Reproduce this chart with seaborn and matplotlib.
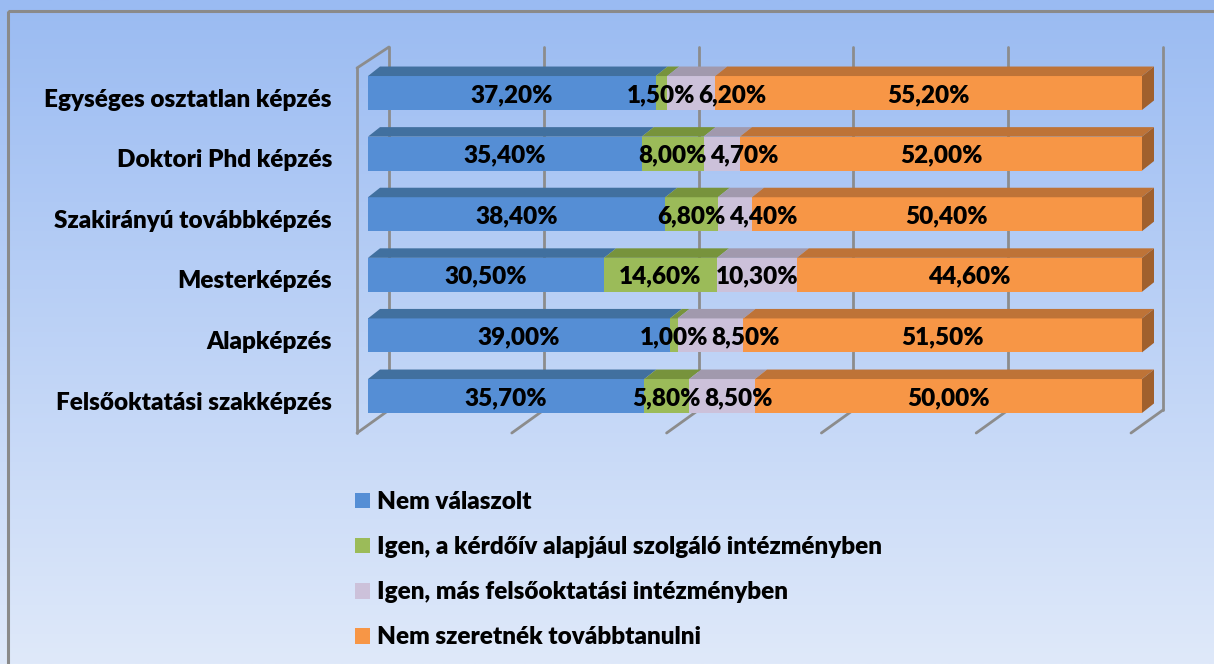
import numpy as np
import pandas as pd
import matplotlib
matplotlib.use("Agg")
import matplotlib.pyplot as plt
from matplotlib.patches import Polygon, Patch, Rectangle
from matplotlib.lines import Line2D
import seaborn as sns

# ---------------- data ----------------
categories = ["Egységes osztatlan képzés", "Doktori Phd képzés", "Szakirányú továbbképzés",
              "Mesterképzés", "Alapképzés", "Felsőoktatási szakképzés"]
series_names = ["Nem válaszolt",
                "Igen, a kérdőív alapjául szolgáló intézményben",
                "Igen, más felsőoktatási intézményben",
                "Nem szeretnék továbbtanulni"]
nem_valaszolt = [37.2, 35.4, 38.4, 30.5, 39.0, 35.7]
igen_alapjaul = [1.5, 8.0, 6.8, 14.6, 1.0, 5.8]
igen_mas = [6.2, 4.7, 4.4, 10.3, 8.5, 8.5]
nem_szeretnek = [55.2, 52.0, 50.4, 44.6, 51.5, 50.0]
grid_ticks = [0, 20, 40, 60, 80, 100]

front_colors = ["#558ed5", "#9bbb59", "#ccc1da", "#f79646"]
top_colors = ["#41709f", "#77933c", "#a199ad", "#be7337"]
side_color = "#a0602d"

sns.set_theme(style="white")
FAM = ["Lato", "DejaVu Sans"]
plt.rcParams["font.family"] = FAM
plt.rcParams["text.color"] = "black"
WEIGHT = "heavy"
FS = 17.5

W, H = 1214, 664
fig = plt.figure(figsize=(W / 100, H / 100), dpi=100)

# background gradient
bg = fig.add_axes([0, 0, 1, 1], zorder=-10)
top_c = np.array([154, 187, 242]) / 255
bot_c = np.array([223, 233, 250]) / 255
t = np.linspace(0, 1, 256)[:, None]
grad = top_c[None, :] * (1 - t) + bot_c[None, :] * t
bg.imshow(grad[:, None, :].repeat(2, axis=1), aspect="auto", extent=[0, W, H, 0])
bg.set_xlim(0, W); bg.set_ylim(H, 0); bg.axis("off")
bg.add_patch(Rectangle((8, 11), W + 10, H + 10, fill=False, edgecolor="#8a8a8a", lw=2.2))

# ---------------- main axes (pixel layout) ----------------
AX_L, AX_R, AX_T, AX_B = 340, 1180, 30, 445
X0_PX, X100_PX = 368, 1142          # bar front face: 0% and 100%
ROW0_PX, ROW_STEP = 93, 60.6         # front face centre of first row and row step
pxu = (X100_PX - X0_PX) / 100.0
ax = fig.add_axes([AX_L / W, 1 - AX_B / H, (AX_R - AX_L) / W, (AX_B - AX_T) / H])
ax.patch.set_alpha(0)

def dx(px):
    return px / pxu

def dy(px):
    return px / ROW_STEP

xlo = (AX_L - X0_PX) / pxu
xhi = (AX_R - X0_PX) / pxu
ytop = (AX_T - ROW0_PX) / ROW_STEP
ybot = (AX_B - ROW0_PX) / ROW_STEP

values = np.array([nem_valaszolt, igen_alapjaul, igen_mas, nem_szeretnek])
totals = values.sum(axis=0)
norm = values / totals * 100
cum = np.cumsum(norm, axis=0)
lefts = cum - norm

bar_h = 0.56

# stacked bars via seaborn (cumulative, drawn from the longest)
for k in range(3, -1, -1):
    df = pd.DataFrame({"cat": categories, "val": cum[k]})
    sns.barplot(data=df, x="val", y="cat", orient="h", color=front_colors[k],
                saturation=1, width=bar_h, ax=ax, linewidth=0, zorder=3)

ax.set_xlim(xlo, xhi)
ax.set_ylim(ybot, ytop)

# back wall / floor / left wall lines
wall_c = "#8c8c8c"
back_off = dx(21)     # bar front -> back wall
front_off = dx(-11)   # bar front -> floor front edge
wall_top_y = (47 - ROW0_PX) / ROW_STEP
wall_bot_y = (410 - ROW0_PX) / ROW_STEP
floor_y = (433 - ROW0_PX) / ROW_STEP
left_top_y = (68 - ROW0_PX) / ROW_STEP
for g in grid_ticks:
    ax.add_line(Line2D([g + back_off, g + back_off], [wall_top_y, wall_bot_y],
                       color=wall_c, lw=2, zorder=1, clip_on=False))
    ax.add_line(Line2D([g + front_off, g + back_off], [floor_y, wall_bot_y],
                       color=wall_c, lw=2, zorder=1, clip_on=False))
ax.add_line(Line2D([front_off, front_off], [left_top_y, floor_y], color=wall_c, lw=2,
                   zorder=1, clip_on=False))
ax.add_line(Line2D([front_off, back_off], [left_top_y, wall_top_y], color=wall_c, lw=2,
                   zorder=1, clip_on=False))

# 3D faces
ddx, ddy = dx(12), dy(9.5)
fig.canvas.draw()
renderer = fig.canvas.get_renderer()
for i in range(len(categories)):
    yt = i - bar_h / 2
    yb = i + bar_h / 2
    for k in range(4):
        l = lefts[k, i]
        r = cum[k, i]
        ax.add_patch(Polygon([(l, yt), (r, yt), (r + ddx, yt - ddy), (l + ddx, yt - ddy)],
                             closed=True, facecolor=top_colors[k], edgecolor="none", zorder=4))
    r = cum[3, i]
    ax.add_patch(Polygon([(r, yt), (r, yb), (r + ddx, yb - ddy), (r + ddx, yt - ddy)],
                         closed=True, facecolor=side_color, edgecolor="none", zorder=4))
    # value labels, pushed right when they would collide
    prev_right = -1e9
    for k in range(4):
        v = values[k, i]
        txt = f"{v:.2f}".replace(".", ",") + "%"
        tx = ax.text(lefts[k, i] + norm[k, i] / 2, i + 0.03, txt, ha="center", va="center",
                     fontsize=FS, fontweight=WEIGHT, color="black", zorder=6)
        bb = tx.get_window_extent(renderer)
        wdata = dx(bb.width)
        left_edge = tx.get_position()[0] - wdata / 2
        if left_edge < prev_right + dx(3):
            shift = prev_right + dx(3) - left_edge
            tx.set_x(tx.get_position()[0] + shift)
            left_edge += shift
        prev_right = left_edge + wdata
    # category labels
    ax.text(-dx(X0_PX - 332), i + 0.11, categories[i], ha="right", va="center",
            fontsize=FS, fontweight=WEIGHT, color="black", zorder=6)

ax.set_yticks([]); ax.set_xticks([])
ax.set_xlabel(""); ax.set_ylabel("")
for s in ax.spines.values():
    s.set_visible(False)
if ax.get_legend():
    ax.get_legend().remove()

# legend
handles = [Patch(facecolor=c, edgecolor="none") for c in front_colors]
leg = fig.legend(handles, series_names, loc="upper left",
                 bbox_to_anchor=(355 / W, 1 - 491 / H), frameon=False, borderpad=0,
                 borderaxespad=0, prop={"family": FAM, "weight": WEIGHT, "size": FS},
                 handlelength=0.62, handleheight=0.62, handletextpad=0.3, labelspacing=0.95)
for tx in leg.get_texts():
    tx.set_color("black")

fig.savefig("out.png", dpi=100)
